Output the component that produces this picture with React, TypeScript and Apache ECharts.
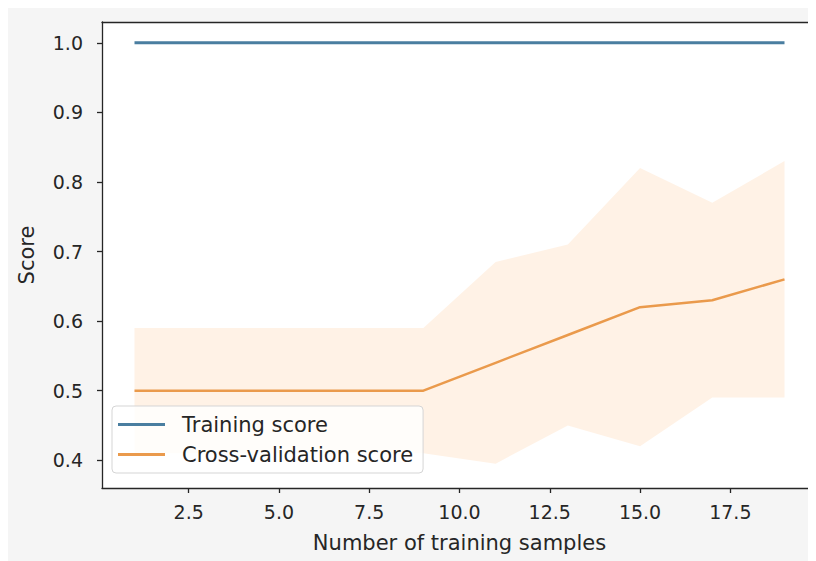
import React, { useEffect, useRef } from "react";
import * as echarts from "echarts";

const trainSizes = [1, 3, 5, 7, 9, 11, 13, 15, 17, 19];
const trainScore = [1.0, 1.0, 1.0, 1.0, 1.0, 1.0, 1.0, 1.0, 1.0, 1.0];
const cvScore = [0.5, 0.5, 0.5, 0.5, 0.5, 0.54, 0.58, 0.62, 0.63, 0.66];
const cvUpper = [0.59, 0.59, 0.59, 0.59, 0.59, 0.685, 0.71, 0.82, 0.77, 0.83];
const cvLower = [0.41, 0.41, 0.41, 0.41, 0.41, 0.395, 0.45, 0.42, 0.49, 0.49];
const xTicks = [2.5, 5.0, 7.5, 10.0, 12.5, 15.0, 17.5];
const yTicks = [0.4, 0.5, 0.6, 0.7, 0.8, 0.9, 1.0];

const FONT = "DejaVu Sans";
const AX = "#262626";

export default function App() {
  const ref = useRef<HTMLDivElement>(null);
  useEffect(() => {
    if (!ref.current) return;
    const chart = echarts.init(ref.current, null, { renderer: "svg" });
    const pts = (ys: number[]) => trainSizes.map((x, i) => [x, ys[i]]);
    chart.setOption({
      animation: false,
      backgroundColor: "#f5f5f5",
      grid: {
        left: 94,
        top: 14,
        width: 715,
        height: 466,
        outerBoundsMode: "none",
        show: true,
        backgroundColor: "#ffffff",
        borderWidth: 0,
      },
      legend: {
        orient: "vertical",
        left: 104,
        top: 398,
        padding: [8, 10, 8, 6],
        itemWidth: 47,
        itemHeight: 18,
        itemGap: 9,
        backgroundColor: "rgba(255,255,255,0.8)",
        borderColor: "#d5d5d5",
        borderWidth: 1,
        borderRadius: 4,
        textStyle: { fontFamily: FONT, fontSize: 21, color: AX, padding: [0, 0, 0, 12] },
        data: [
          { name: "Training score", icon: "path://M0 0H47V3H0Z" },
          { name: "Cross-validation score", icon: "path://M0 0H47V3H0Z" },
        ],
      },
      xAxis: [
        {
          type: "value",
          min: 0.1,
          max: 19.9,
          name: "Number of training samples",
          nameLocation: "middle",
          nameGap: 44,
          nameTextStyle: { fontFamily: FONT, fontSize: 21, color: AX },
          axisLine: { show: true, onZero: false, lineStyle: { color: AX, width: 1.3 } },
          axisTick: { show: true, length: 5, lineStyle: { color: AX, width: 1.3 }, customValues: xTicks },
          axisLabel: {
            fontFamily: FONT,
            fontSize: 19,
            color: AX,
            margin: 14,
            customValues: xTicks,
            formatter: (v: number) => v.toFixed(1),
          },
          splitLine: { show: false },
        },
        {
          type: "value",
          position: "top",
          min: 0.1,
          max: 19.9,
          axisLine: { show: true, onZero: false, lineStyle: { color: AX, width: 1.3 } },
          axisTick: { show: false },
          axisLabel: { show: false },
          splitLine: { show: false },
        },
      ],
      yAxis: {
        type: "value",
        min: 0.36,
        max: 1.03,
        name: "Score",
        nameLocation: "middle",
        nameGap: 65,
        nameRotate: 90,
        nameTextStyle: { fontFamily: FONT, fontSize: 21, color: AX },
        axisLine: { show: true, onZero: false, lineStyle: { color: AX, width: 1.3 } },
        axisTick: { show: true, length: 5, lineStyle: { color: AX, width: 1.3 }, customValues: yTicks },
        axisLabel: {
          fontFamily: FONT,
          fontSize: 19,
          color: AX,
          margin: 19,
          customValues: yTicks,
          formatter: (v: number) => v.toFixed(1),
        },
        splitLine: { show: false },
      },
      series: [
        {
          name: "cvBand",
          type: "custom",
          data: [0],
          silent: true,
          z: 1,
          renderItem: (_params: any, api: any) => {
            const upper = trainSizes.map((x, i) => api.coord([x, cvUpper[i]]));
            const lower = trainSizes
              .map((x, i) => api.coord([x, cvLower[i]]))
              .reverse();
            return {
              type: "polygon",
              shape: { points: upper.concat(lower) },
              style: { fill: "#ff7f0e", opacity: 0.1 },
            };
          },
        },
        {
          name: "Training score",
          type: "line",
          data: pts(trainScore),
          showSymbol: false,
          color: "#4a7ea0",
          lineStyle: { color: "#4a7ea0", width: 3 },
          z: 3,
        },
        {
          name: "Cross-validation score",
          type: "line",
          data: pts(cvScore),
          showSymbol: false,
          color: "#ea9a4c",
          lineStyle: { color: "#ea9a4c", width: 2.5 },
          z: 3,
        },
      ],
    });
    return () => chart.dispose();
  }, []);
  return <div ref={ref} style={{ width: 808, height: 553 }} />;
}
